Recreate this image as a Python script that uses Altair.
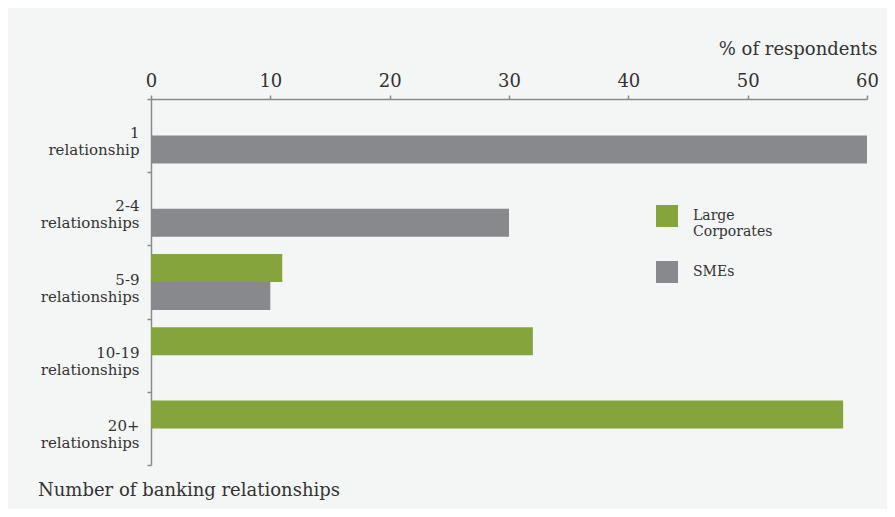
import altair as alt
import pandas as pd

categories = ["1|relationship", "2-4|relationships", "5-9|relationships",
              "10-19|relationships", "20+|relationships"]
series = ["Large Corporates", "SMEs"]
large_corporates = [0, 0, 11, 32, 58]
smes = [60, 30, 10, 0, 0]
x_ticks = [0, 10, 20, 30, 40, 50, 60]
colors = ["#85a43c", "#88898c"]

rows = []
for c, v in zip(categories, large_corporates):
    rows.append({"cat": c, "series": series[0], "value": v})
for c, v in zip(categories, smes):
    rows.append({"cat": c, "series": series[1], "value": v})
df = pd.DataFrame(rows)

FONT = "DejaVu Serif"
AXIS_COLOR = "#8a8a8a"
TEXT_COLOR = "#333333"

chart = alt.Chart(df).mark_bar().encode(
    x=alt.X("value:Q",
            scale=alt.Scale(domain=[0, 60], nice=False),
            axis=alt.Axis(orient="top", values=x_ticks, grid=False,
                          title="% of respondents", titleAnchor="end",
                          titleAlign="right", titleX=726, titleY=-45,
                          titleBaseline="alphabetic",
                          titleFont=FONT, titleFontSize=18, titleFontWeight="normal",
                          titleColor=TEXT_COLOR,
                          labelFont=FONT, labelFontSize=18, labelColor=TEXT_COLOR,
                          labelFlush=False,
                          labelPadding=5, tickSize=4, tickWidth=1.5,
                          tickColor=AXIS_COLOR, domainColor=AXIS_COLOR,
                          domainWidth=1.5)),
    y=alt.Y("cat:N", sort=categories,
            scale=alt.Scale(paddingInner=0, paddingOuter=0),
            axis=alt.Axis(title=None, labelExpr="split(datum.label, '|')",
                          labelFont=FONT, labelFontSize=15, labelColor=TEXT_COLOR,
                          labelLineHeight=17, labelOffset=-3, labelPadding=8,
                          labelAlign="right", labelBaseline="middle",
                          tickBand="extent", tickSize=4, tickWidth=1.5,
                          tickColor=AXIS_COLOR, domainColor=AXIS_COLOR,
                          domainWidth=1.5, labelLimit=300)),
    yOffset=alt.YOffset("series:N", sort=series,
                        scale=alt.Scale(paddingInner=0, paddingOuter=0.31)),
    color=alt.Color("series:N", sort=series,
                    scale=alt.Scale(domain=series, range=colors),
                    legend=alt.Legend(title=None, orient="none",
                                      legendX=505, legendY=106,
                                      symbolType="square", symbolSize=484,
                                      symbolStrokeWidth=0,
                                      labelFont=FONT, labelFontSize=14,
                                      labelColor=TEXT_COLOR, labelOffset=15,
                                      rowPadding=22,
                                      labelExpr="datum.label == 'Large Corporates' ? ['Large', 'Corporates'] : datum.label")),
).properties(
    width=716,
    height=366,
    background="#f4f6f5",
    padding={"left": 143, "top": 91, "right": 20, "bottom": 44},
    autosize=alt.AutoSizeParams(type="none"),
    title=alt.TitleParams("Number of banking relationships", orient="bottom",
                          anchor="start", frame="group", dx=-113, offset=16,
                          font=FONT, fontSize=18, fontWeight="normal",
                          color=TEXT_COLOR),
).configure_view(stroke=None)

chart.save("out.html", embed_options={"renderer": "svg", "actions": False})
